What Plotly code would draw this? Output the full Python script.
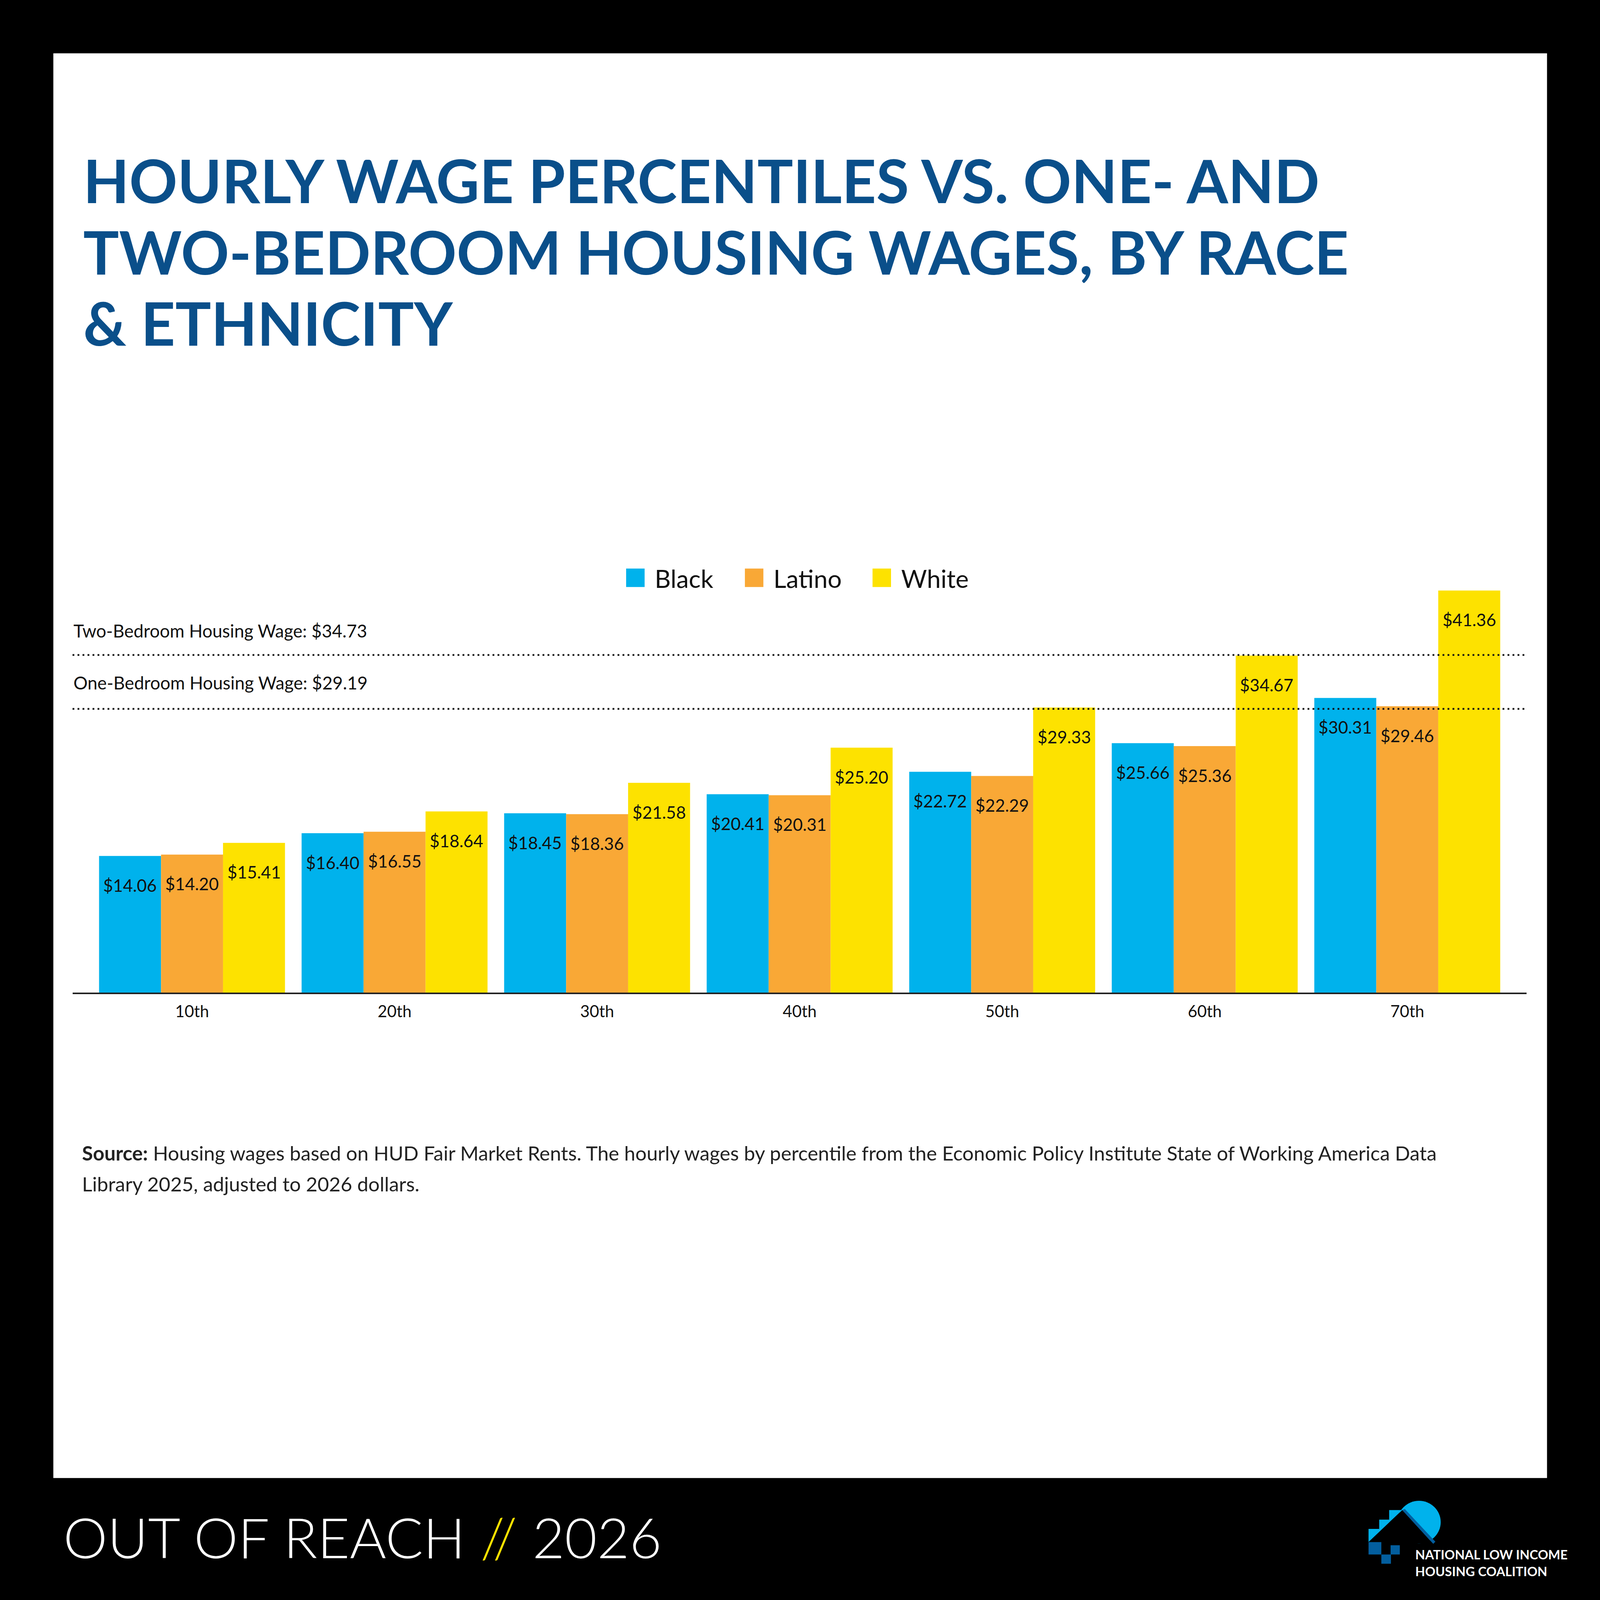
import plotly.graph_objects as go

# ---------------- data ----------------
percentiles = ["10th", "20th", "30th", "40th", "50th", "60th", "70th"]
black_wages = [14.06, 16.40, 18.45, 20.41, 22.72, 25.66, 30.31]
latino_wages = [14.20, 16.55, 18.36, 20.31, 22.29, 25.36, 29.46]
white_wages = [15.41, 18.64, 21.58, 25.20, 29.33, 34.67, 41.36]
series_names = ["Black", "Latino", "White"]
two_bedroom_wage = 34.73
one_bedroom_wage = 29.19

# ---------------- styling / layout constants ----------------
REF = 4500            # reference design space (px)
FIG = 4096            # css size of the figure
S = FIG / REF         # scale for px-based sizes
FONT = "Lato"
COLORS = ["#00B2EC", "#F9A836", "#FDE200"]
TITLE_COLOR = "#0A4F8A"
X_LEFT, X_RIGHT = 204, 4294          # plot area in reference px
Y_BASE = 2792                         # zero line in reference px
PX_PER_DOLLAR = 27.35
Y_MAX = 44
Y_TOP = Y_BASE - Y_MAX * PX_PER_DOLLAR
BARGAP = 0.082


def fx(px):
    return px / REF


def fy(py):
    return 1 - py / REF


def sz(v):
    return v * S


fig = go.Figure()
all_series = [black_wages, latino_wages, white_wages]
for name, vals, col in zip(series_names, all_series, COLORS):
    fig.add_trace(go.Bar(
        x=percentiles, y=vals, name=name,
        marker=dict(color=col, line=dict(width=0)),
        showlegend=False, hoverinfo="x+y+name",
    ))

annotations = []
shapes = []

# white panel
shapes.append(dict(type="rect", xref="paper", yref="paper",
                   x0=fx(150), x1=fx(4351), y0=fy(4157), y1=fy(150),
                   fillcolor="white", line=dict(width=0), layer="below"))

# value labels inside bar tops
bw = (1 - BARGAP) / 3
for j, vals in enumerate(all_series):
    for i, v in enumerate(vals):
        annotations.append(dict(
            x=i + (j - 1) * bw, y=v, xref="x", yref="y",
            text=f"${v:.2f}", showarrow=False, yshift=sz(-82),
            font=dict(family=FONT, size=sz(48), color="#111111"),
            xanchor="center", yanchor="middle"))

# housing wage reference lines
dash = f"{sz(5):.1f}px,{sz(9):.1f}px"
for val, label, shift in [(two_bedroom_wage, "Two-Bedroom Housing Wage", 68),
                          (one_bedroom_wage, "One-Bedroom Housing Wage", 74)]:
    shapes.append(dict(type="line", xref="x domain", yref="y",
                       x0=0, x1=1, y0=val, y1=val,
                       line=dict(color="#111111", width=sz(5), dash=dash),
                       layer="above"))
    annotations.append(dict(
        x=0, y=val, xref="x domain", yref="y", xanchor="left", yanchor="middle",
        text=f"{label}: ${val:.2f}", showarrow=False, yshift=sz(shift),
        font=dict(family=FONT, size=sz(50), color="#111111")))

# title
title_lines = ["HOURLY WAGE PERCENTILES VS. ONE- AND",
               "TWO-BEDROOM HOUSING WAGES, BY RACE",
               "& ETHNICITY"]
for line, yc in zip(title_lines, [507, 708, 908]):
    annotations.append(dict(
        x=fx(232), y=fy(yc), xref="paper", yref="paper",
        xanchor="left", yanchor="middle", showarrow=False, text=line,
        font=dict(family=FONT, size=sz(168), color=TITLE_COLOR, weight=700)))

# manual legend
legend_sq_x = [1761, 2095, 2454]
for name, col, sx in zip(series_names, COLORS, legend_sq_x):
    shapes.append(dict(type="rect", xref="paper", yref="paper",
                       x0=fx(sx), x1=fx(sx + 52), y0=fy(1651), y1=fy(1599),
                       fillcolor=col, line=dict(width=0)))
    annotations.append(dict(
        x=fx(sx + 78), y=fy(1627), xref="paper", yref="paper",
        xanchor="left", yanchor="middle", showarrow=False, text=name,
        font=dict(family=FONT, size=sz(70), color="#111111")))

# source note
annotations.append(dict(
    x=fx(228), y=fy(3243), xref="paper", yref="paper", xanchor="left", yanchor="middle",
    showarrow=False,
    text="<b>Source:</b> Housing wages based on HUD Fair Market Rents. The hourly wages by percentile "
         "from the Economic Policy Institute State of Working America Data",
    font=dict(family=FONT, size=sz(56), color="#222222")))
annotations.append(dict(
    x=fx(228), y=fy(3329), xref="paper", yref="paper", xanchor="left", yanchor="middle",
    showarrow=False, text="Library 2025, adjusted to 2026 dollars.",
    font=dict(family=FONT, size=sz(56), color="#222222")))

# footer
annotations.append(dict(
    x=fx(176), y=fy(4321), xref="paper", yref="paper", xanchor="left", yanchor="middle",
    showarrow=False,
    text="OUT OF REACH <span style='color:#FDE200'>//</span> 2026",
    font=dict(family=FONT, size=sz(157), color="white", weight=300)))

# logo
LB, DB = "#00B2EC", "#035E9E"


def path(points):
    return "M " + " L ".join(f"{fx(x)},{fy(y)}" for x, y in points) + " Z"


shapes.append(dict(type="circle", xref="paper", yref="paper",
                   x0=fx(3930), x1=fx(4052), y0=fy(4341), y1=fy(4221),
                   fillcolor=LB, line=dict(width=0)))
shapes.append(dict(type="path", xref="paper", yref="paper",
                   path=path([(3849, 4337), (3849, 4300), (3879, 4300), (3879, 4274),
                              (3907, 4274), (3907, 4247), (3944, 4247)]),
                   fillcolor=LB, line=dict(width=0)))
shapes.append(dict(type="path", xref="paper", yref="paper",
                   path=path([(3944, 4247), (3849, 4337), (4031, 4342)]),
                   fillcolor="black", line=dict(width=0)))
shapes.append(dict(type="path", xref="paper", yref="paper",
                   path=path([(3944, 4247), (3951, 4244), (4037, 4336), (4031, 4342)]),
                   fillcolor=DB, line=dict(width=0)))
for (x0, x1, y0, y1) in [(3849, 3885, 4337, 4372), (3911, 3937, 4346, 4372),
                         (3885, 3912, 4372, 4398)]:
    shapes.append(dict(type="rect", xref="paper", yref="paper",
                       x0=fx(x0), x1=fx(x1), y0=fy(y1), y1=fy(y0),
                       fillcolor=DB, line=dict(width=0)))
annotations.append(dict(
    x=fx(3978), y=fy(4396), xref="paper", yref="paper", xanchor="left", yanchor="middle",
    showarrow=False, align="left",
    text="<b>NATIONAL LOW INCOME<br>HOUSING COALITION</b>",
    font=dict(family=FONT, size=sz(36), color="white")))

fig.update_layout(
    width=FIG, height=FIG,
    margin=dict(l=0, r=0, t=0, b=0, pad=0),
    paper_bgcolor="black", plot_bgcolor="rgba(0,0,0,0)",
    barmode="group", bargap=BARGAP, bargroupgap=0,
    showlegend=False,
    xaxis=dict(domain=[fx(X_LEFT), fx(X_RIGHT)], range=[-0.59, 6.59],
               showline=True, linecolor="#222222", linewidth=sz(4),
               ticks="", showgrid=False, zeroline=False,
               tickfont=dict(family=FONT, size=sz(46), color="#111111"),
               ticklabelstandoff=int(round(sz(10))), fixedrange=True),
    yaxis=dict(domain=[fy(Y_BASE), fy(Y_TOP)], range=[0, Y_MAX], visible=False,
               showgrid=False, zeroline=False, fixedrange=True),
    annotations=annotations, shapes=shapes,
    font=dict(family=FONT),
)

fig.write_html(
    "out.html",
    config={"displayModeBar": False},
    post_script="document.body.style.margin='0';document.body.style.background='black';"
                "document.body.style.overflow='hidden';",
)
